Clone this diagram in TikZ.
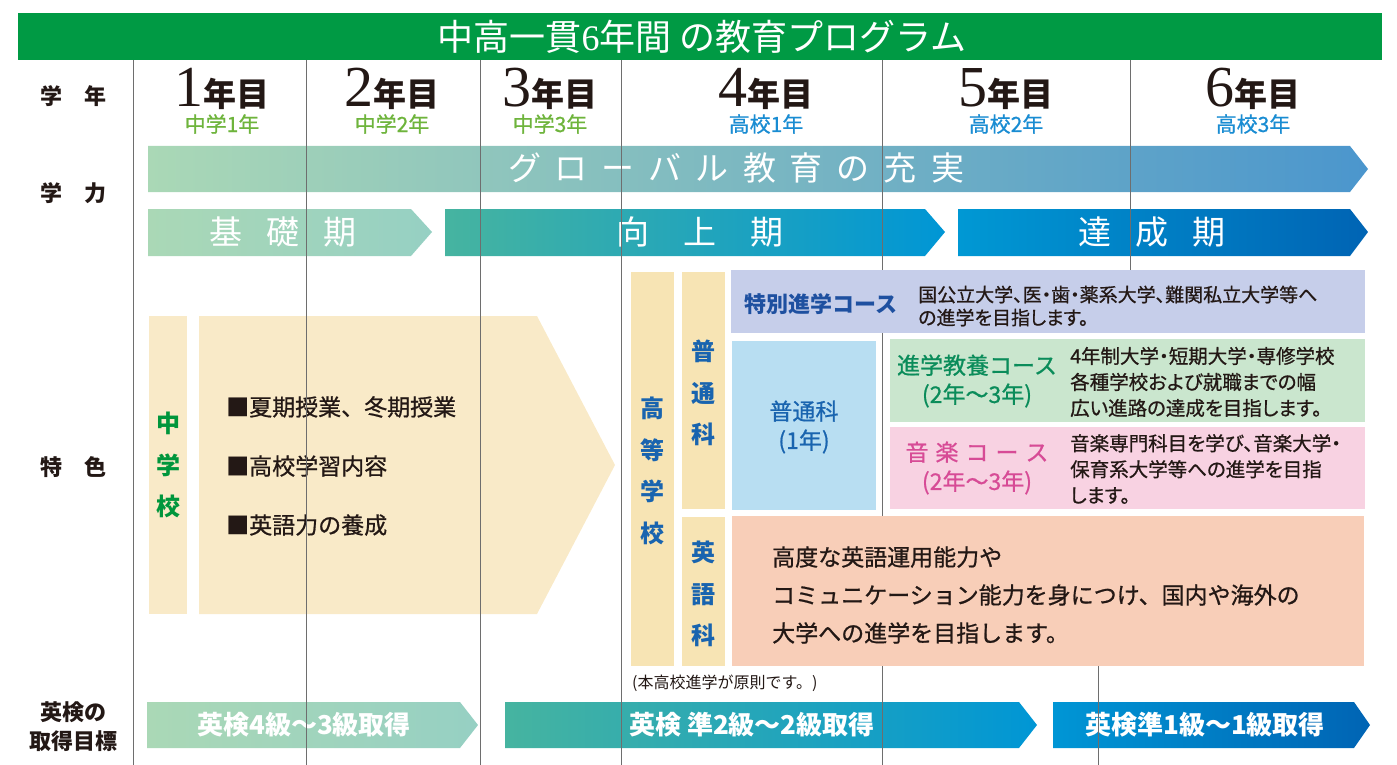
\documentclass[tikz,border=0pt]{standalone}
\usepackage{fontspec}
\setmainfont{Noto Sans CJK JP}
\newfontfamily\digits{Liberation Serif}
\newfontfamily\jpp[RawFeature=+palt, FakeBold=0.8]{Noto Sans CJK JP}
\newfontfamily\jpm[FakeBold=0.8]{Noto Sans CJK JP}
\usetikzlibrary{positioning}
\definecolor{titlegreen}{RGB}{0,154,68}
\definecolor{ink}{RGB}{35,24,21}
\definecolor{gridgray}{RGB}{110,110,110}
\definecolor{subgreen}{RGB}{110,180,60}
\definecolor{subblue}{RGB}{25,140,210}
\definecolor{msgreen}{RGB}{0,150,60}
\definecolor{hsblue}{RGB}{25,100,175}
\definecolor{navy}{RGB}{30,80,160}
\definecolor{coursegreen}{RGB}{10,140,90}
\definecolor{coursepink}{RGB}{215,75,150}
\definecolor{msbeige}{RGB}{249,234,200}
\definecolor{hsbeige}{RGB}{247,228,180}
\definecolor{lavender}{RGB}{198,206,234}
\definecolor{paleblue}{RGB}{184,222,242}
\definecolor{mint}{RGB}{202,230,206}
\definecolor{pink}{RGB}{248,210,226}
\definecolor{peach}{RGB}{248,206,184}
\definecolor{palegreen}{RGB}{170,216,182}
\definecolor{seagreen}{RGB}{150,208,195}
\definecolor{teal}{RGB}{70,180,160}
\definecolor{cyan}{RGB}{0,172,200}
\definecolor{globalmid}{RGB}{78,195,215}
\definecolor{globalend}{RGB}{75,150,205}
\definecolor{sky}{RGB}{0,150,213}
\definecolor{deepblue}{RGB}{0,100,180}
\tikzstyle{rowlabel}=[font=\fontsize{22}{29}\selectfont\bfseries, text=ink, align=center]
\tikzstyle{subtitle}=[font=\jpm\fontsize{21}{21}\selectfont]
\tikzstyle{bartext}=[font=\fontsize{33}{33}\selectfont, text=white]
\tikzstyle{goaltext}=[font=\fontsize{26}{26}\selectfont\bfseries, text=white]
\tikzstyle{vertical}=[font=\fontsize{24}{41.5}\selectfont\bfseries, align=center]
\tikzstyle{bullet}=[font=\jpm\fontsize{23}{23}\selectfont, text=ink, anchor=west]
\tikzstyle{course}=[font=\fontsize{22}{29}\selectfont\bfseries, align=center]
\tikzstyle{desc}=[font=\jpp\fontsize{19.5}{26}\selectfont, text=ink, align=left, anchor=west]
\tikzstyle{gridline}=[draw=gridgray, line width=0.9pt]
\newcommand{\yr}[1]{{\digits\fontsize{58}{58}\selectfont #1}{\fontsize{33}{33}\selectfont\bfseries 年目}}

\begin{document}
\begin{tikzpicture}[x=1pt, y=-1pt, inner sep=0pt]
  \useasboundingbox (0,0) rectangle (1397,765);
  % title bar
  \fill[titlegreen] (18,13) rectangle (1382,60);
  \node[font=\fontsize{36}{36}\selectfont, text=white] (title) at (702,37) {中高一貫{\digits 6}年間 の教育プログラム};

  % row labels
  \node[rowlabel] (rgrade) at (73,96) {学\hspace{1em}年};
  \node[rowlabel] (rskill) at (73,193) {学\hspace{1em}力};
  \node[rowlabel] (rfeature) at (73,467) {特\hspace{1em}色};
  \node[rowlabel] (rgoal) at (73,727) {英検の\\取得目標};

  % years
  \node[anchor=base, text=ink] (y1) at (222,107) {\yr{1}};
  \node[anchor=base, text=ink] (y2) at (392,107) {\yr{2}};
  \node[anchor=base, text=ink] (y3) at (550,107) {\yr{3}};
  \node[anchor=base, text=ink] (y4) at (766,107) {\yr{4}};
  \node[anchor=base, text=ink] (y5) at (1006,107) {\yr{5}};
  \node[anchor=base, text=ink] (y6) at (1253,107) {\yr{6}};
  \node[subtitle, text=subgreen] (s1) at (222,124) {中学1年};
  \node[subtitle, text=subgreen] (s2) at (392,124) {中学2年};
  \node[subtitle, text=subgreen] (s3) at (550,124) {中学3年};
  \node[subtitle, text=subblue] (s4) at (766,124) {高校1年};
  \node[subtitle, text=subblue] (s5) at (1006,124) {高校2年};
  \node[subtitle, text=subblue] (s6) at (1253,124) {高校3年};

  % skill bars
  \shade[left color=palegreen, middle color=globalmid, right color=globalend]
    (148,146) -- (1350,146) -- (1368,169) -- (1350,192) -- (148,192) -- cycle;
  \node[bartext] (global) at (736,168) {グ\hspace{14pt}ロ\hspace{14pt}ー\hspace{14pt}バ\hspace{14pt}ル\hspace{14pt}教\hspace{14pt}育\hspace{14pt}の\hspace{14pt}充\hspace{14pt}実};
  \shade[left color=palegreen, right color=seagreen]
    (148,209) -- (411,209) -- (432,232) -- (411,256) -- (148,256) -- cycle;
  \shade[left color=teal, middle color=cyan, right color=sky]
    (445,209) -- (925,209) -- (945,232) -- (925,256) -- (445,256) -- cycle;
  \shade[left color=sky!90!cyan, right color=deepblue]
    (958,209) -- (1350,209) -- (1368,232) -- (1350,256) -- (958,256) -- cycle;
  \node[bartext] (basic) at (283,232) {基\hspace{24pt}礎\hspace{24pt}期};
  \node[bartext] (growth) at (700,232) {向\hspace{34pt}上\hspace{34pt}期};
  \node[bartext] (reach) at (1152,232) {達\hspace{24pt}成\hspace{24pt}期};

  % junior high
  \fill[msbeige] (149,316) rectangle (187,614);
  \fill[msbeige] (199,316) -- (537,316) -- (615,465) -- (537,614) -- (199,614) -- cycle;
  \node[vertical, text=msgreen] (jhs) at (168,465) {中\\学\\校};
  \node[bullet] (b1) at (226,407) {■夏期授業、冬期授業};
  \node[bullet] (b2) at (226,466) {■高校学習内容};
  \node[bullet] (b3) at (226,525) {■英語力の養成};

  % goal bars
  \shade[left color=palegreen, right color=seagreen]
    (147,702) -- (460,702) -- (478,725) -- (460,748) -- (147,748) -- cycle;
  \shade[left color=teal, middle color=cyan, right color=sky]
    (505,702) -- (1019,702) -- (1037,725) -- (1019,748) -- (505,748) -- cycle;
  \shade[left color=sky, right color=deepblue]
    (1053,702) -- (1354,702) -- (1370,725) -- (1354,748) -- (1053,748) -- cycle;
  \node[goaltext] (g1) at (304,725) {英検4級〜3級取得};
  \node[goaltext] (g2) at (752,725) {英検 準2級〜2級取得};
  \node[goaltext] (g3) at (1205,725) {英検準1級〜1級取得};

  % grid lines
  \draw[gridline] (133,60) -- (133,765);
  \draw[gridline] (306,60) -- (306,765);
  \draw[gridline] (480,60) -- (480,765);
  \draw[gridline] (621,60) -- (621,765);
  \draw[gridline] (882,60) -- (882,765);
  \draw[gridline] (1130,60) -- (1130,272);
  \draw[gridline] (1098,665) -- (1098,765);

  % high school
  \fill[hsbeige] (631,272) rectangle (674,666);
  \fill[hsbeige] (682,272) rectangle (725,509);
  \fill[hsbeige] (682,517) rectangle (725,666);
  \node[vertical, text=hsblue] (hs) at (652,471) {高\\等\\学\\校};
  \node[vertical, text=hsblue] (gen) at (703,393) {普\\通\\科};
  \node[vertical, text=hsblue] (eng) at (703,594) {英\\語\\科};

  \fill[lavender] (731,270) rectangle (1365,333);
  \node[course, text=navy] (special) at (821,304) {特別進学コース};
  \node[desc, font=\jpp\fontsize{19}{23}\selectfont] (dspecial) at (918,306) {国公立大学、医・歯・薬系大学、難関私立大学等へ\\の進学を目指します。};

  \fill[paleblue] (732,341) rectangle (876,510);
  \node[course, font=\jpm\fontsize{23}{29}\selectfont, text=hsblue] (gen1) at (804,427) {普通科\\(1年)};

  \fill[mint] (890,339) rectangle (1365,422);
  \node[course, font=\jpm\fontsize{23}{29}\selectfont, text=coursegreen] (prep) at (977,381) {進学教養コース\\(2年〜3年)};
  \node[desc] (dprep) at (1070,382) {4年制大学・短期大学・専修学校\\各種学校および就職までの幅\\広い進路の達成を目指します。};

  \fill[pink] (890,427) rectangle (1365,509);
  \node[course, font=\jpm\fontsize{23}{29}\selectfont, text=coursepink] (music) at (977,468) {音\hspace{7pt}楽\hspace{7pt}コ\hspace{7pt}ー\hspace{7pt}ス\\(2年〜3年)};
  \node[desc] (dmusic) at (1070,469) {音楽専門科目を学び、音楽大学・\\保育系大学等への進学を目指\\します。};

  \fill[peach] (732,516) rectangle (1364,666);
  \node[desc, font=\jpm\fontsize{23}{38}\selectfont] (deng) at (772,595) {高度な英語運用能力や\\コミュニケーション能力を身につけ、国内や海外の\\大学への進学を目指します。};

  \node[anchor=west, font=\fontsize{16}{16}\selectfont, text=ink] (note) at (632,683) {(本高校進学が原則です。)};
\end{tikzpicture}
\end{document}
